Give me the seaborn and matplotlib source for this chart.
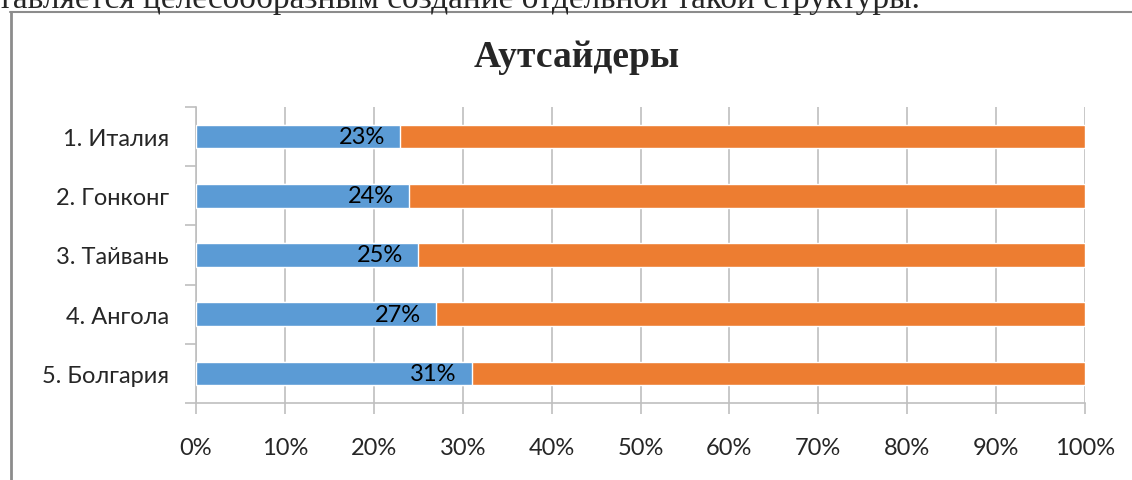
import matplotlib
matplotlib.use("Agg")
import matplotlib.pyplot as plt
import seaborn as sns
import pandas as pd
from matplotlib.lines import Line2D
from matplotlib.ticker import FixedLocator, PercentFormatter

countries = ["1. Италия", "2. Гонконг", "3. Тайвань", "4. Ангола", "5. Болгария"]
share = [23, 24, 25, 27, 31]
total = [100, 100, 100, 100, 100]

blue = "#5B9BD5"
orange = "#ED7D31"
grid_col = "#BFBFBF"

sns.set_style("white")
plt.rcParams["font.family"] = ["Lato", "DejaVu Sans"]

df = pd.DataFrame({"country": countries, "share": share, "total": total})

fig = plt.figure(figsize=(11.32, 4.81), dpi=100)
ax = fig.add_axes([196 / 1132, 1 - 404 / 481, (1085 - 196) / 1132, (404 - 108) / 481])

sns.barplot(data=df, x="total", y="country", color=orange, width=0.4,
            saturation=1, ax=ax, zorder=2)
sns.barplot(data=df, x="share", y="country", color=blue, width=0.4,
            saturation=1, ax=ax, zorder=3)

for i, v in enumerate(share):
    ax.annotate(f"{v}%", xy=(v, i), xytext=(-11, 0), textcoords="offset points",
                ha="right", va="center", fontsize=17, color="black", zorder=4)

ax.set_xlim(0, 100)
ax.set_ylim(4.5, -0.5)
ax.set_xticks(range(0, 101, 10))
ax.xaxis.set_major_formatter(PercentFormatter(decimals=0))
ax.set_xlabel("")
ax.set_ylabel("")

ax.yaxis.set_minor_locator(FixedLocator([-0.5, 0.5, 1.5, 2.5, 3.5, 4.5]))
ax.tick_params(axis="y", which="major", length=0, pad=19.5, labelsize=17)
ax.tick_params(axis="y", which="minor", length=8, width=1.2, color=grid_col, left=True)
ax.tick_params(axis="x", which="major", length=8, width=1.2, color=grid_col,
               bottom=True, pad=16.5, labelsize=17)

ax.grid(axis="x", color=grid_col, linewidth=1.2, zorder=0)
ax.set_axisbelow(True)
for s in ["top", "right"]:
    ax.spines[s].set_visible(False)
for s in ["left", "bottom"]:
    ax.spines[s].set_color(grid_col)
    ax.spines[s].set_linewidth(1.2)

fig.text(577 / 1132, 1 - 67 / 481, "Аутсайдеры", ha="center", va="baseline",
         fontsize=27, fontweight="bold", family=["Liberation Serif"])

fig.text(-2 / 1132, 1 - 8 / 481,
         "тавляется целесообразным создание отдельной такой структуры.",
         ha="left", va="baseline", fontsize=24, family=["Liberation Serif"])

fig.add_artist(Line2D([11 / 1132, 11 / 1132], [0, 1 - 13 / 481],
                      transform=fig.transFigure, color="#8C8C8C", linewidth=2))
fig.add_artist(Line2D([10 / 1132, 1], [1 - 13 / 481, 1 - 13 / 481],
                      transform=fig.transFigure, color="#8C8C8C", linewidth=1.5))

fig.savefig("out.png", dpi=100)
